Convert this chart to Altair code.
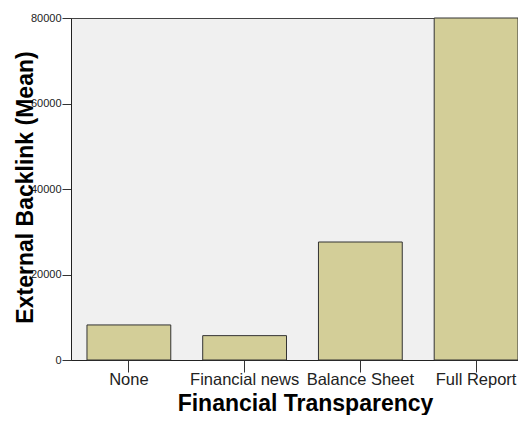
import altair as alt
import pandas as pd

categories = ["None", "Financial news", "Balance Sheet", "Full Report"]
means = [8200, 5700, 27600, 80000]
y_ticks = [0, 20000, 40000, 60000, 80000]

df = pd.DataFrame({"cat": categories, "mean": means})

FONT = "Liberation Sans"

chart = alt.Chart(df).mark_bar(
    fill="#d3ce98", stroke="#333333", strokeWidth=1
).encode(
    x=alt.X("cat:N", sort=categories,
            scale=alt.Scale(paddingInner=0.276, paddingOuter=0.069, align=1),
            axis=alt.Axis(title="Financial Transparency", labelAngle=0,
                          labelFont=FONT, labelFontSize=16.5, labelColor="#222222",
                          labelBaseline="alphabetic", labelPadding=12,
                          tickSize=12, tickColor="#333333", domainColor="#222222",
                          titleFont=FONT, titleFontSize=23, titleFontWeight="bold",
                          titleColor="#000000", titleBaseline="alphabetic",
                          titleX=234, titleY=50, titleAlign="center")),
    y=alt.Y("mean:Q", scale=alt.Scale(domain=[0, 80000], nice=False),
            axis=alt.Axis(title="External Backlink (Mean)", values=y_ticks, format="d",
                          grid=False, labelFont=FONT, labelFontSize=11,
                          labelColor="#222222", labelPadding=1, tickSize=9,
                          tickColor="#333333", domainColor="#222222",
                          titleFont=FONT, titleFontSize=23, titleFontWeight="bold",
                          titleColor="#000000", titleAngle=270, titleBaseline="alphabetic",
                          titleAlign="center", titleX=-39, titleY=169)),
).properties(
    width=447, height=342,
    autosize=alt.AutoSizeParams(type="none"),
    padding={"left": 63, "top": 10, "right": 0, "bottom": 55},
).configure_view(
    fill="#f0f0f0", stroke="#444444", strokeWidth=1
)

chart.save("out.html", embed_options={"renderer": "svg", "actions": False})
